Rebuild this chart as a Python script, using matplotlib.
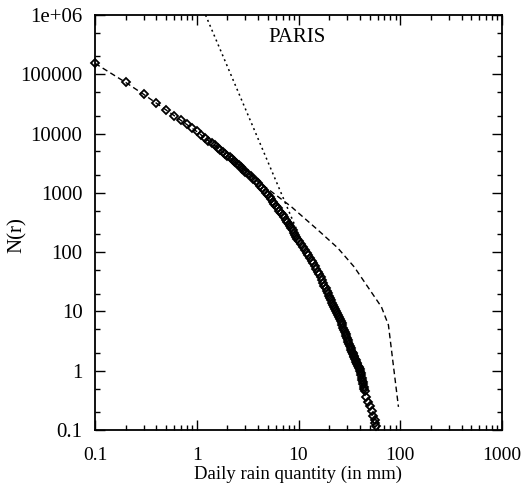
import numpy as np
import matplotlib
matplotlib.use("Agg")
import matplotlib.pyplot as plt
from matplotlib.ticker import FixedLocator, FixedFormatter, LogLocator, NullFormatter

plt.rcParams['font.family'] = ['Liberation Serif', 'DejaVu Serif']

# Daily rain quantity r (mm) and log10 of N(r)
rain_mm = [0.1, 0.2, 0.3, 0.4, 0.5, 0.6, 0.7, 0.8, 0.9,
           1.0, 1.1, 1.2, 1.3, 1.4, 1.5, 1.6, 1.7, 1.8, 1.9,
           2.0, 2.1, 2.2, 2.3, 2.4, 2.5, 2.6, 2.7, 2.8, 2.9,
           3.0, 3.2, 3.4, 3.6, 3.8, 4.0, 4.2, 4.4, 4.6, 4.8,
           5.0, 5.2, 5.4, 5.6, 5.8, 6.0, 6.25, 6.5, 6.75, 7.0,
           7.25, 7.5, 7.75, 8.0, 8.25, 8.5, 8.75, 9.0, 9.25, 9.5,
           9.75, 10.0, 10.5, 11.0, 11.5, 12.0, 12.5, 13.0,
           13.5, 14.0, 14.5, 15.0, 15.5, 16.0, 16.5, 17.0, 17.5, 18.0,
           18.5, 19.0, 19.5, 20.0, 20.5, 21.0, 21.5, 22.0, 22.5, 23.0,
           23.5, 24.0, 24.5, 25.0, 25.5, 26.0, 26.5, 27.0, 27.5, 28.0,
           28.5, 29.0, 29.5, 30.0, 30.5, 31.0, 31.5, 32.0, 32.5, 33.0,
           33.5, 34.0, 34.5, 35.0, 35.5, 36.0, 36.5, 37.0, 37.5, 38.0,
           38.5, 39.0, 39.5, 40.0, 40.5, 41.0, 41.5, 42.0, 42.5, 43.0,
           43.5, 44.0, 44.5, 45.0, 46.5, 48.5, 50.5, 52.5, 54.5, 56.0,
           57.0, 58.0]
log10_count = [5.185, 4.863, 4.663, 4.511, 4.398, 4.301, 4.228, 4.161, 4.093,
               4.035, 3.980, 3.929, 3.883, 3.840, 3.800, 3.762, 3.726, 3.692, 3.660,
               3.630, 3.599, 3.570, 3.542, 3.516, 3.490, 3.462, 3.435, 3.409, 3.384,
               3.360, 3.320, 3.280, 3.240, 3.200, 3.160, 3.120, 3.080, 3.040, 3.000,
               2.960, 2.925, 2.890, 2.850, 2.815, 2.780, 2.740, 2.700, 2.660, 2.620,
               2.585, 2.550, 2.515, 2.480, 2.443, 2.405, 2.368, 2.330, 2.295, 2.260,
               2.225, 2.190, 2.140, 2.090, 2.040, 1.990, 1.945, 1.900,
               1.855, 1.810, 1.765, 1.720, 1.670, 1.625, 1.575, 1.525, 1.475, 1.430,
               1.390, 1.345, 1.305, 1.264, 1.225, 1.187, 1.150, 1.113, 1.078, 1.043,
               1.009, 0.976, 0.943, 0.911, 0.880, 0.840, 0.801, 0.763, 0.725, 0.688,
               0.652, 0.616, 0.581, 0.546, 0.512, 0.479, 0.446, 0.414, 0.381, 0.350,
               0.324, 0.299, 0.274, 0.249, 0.225, 0.201, 0.178, 0.155, 0.132, 0.109,
               0.087, 0.065, 0.043, 0.022, 0.000, -0.040, -0.080, -0.120, -0.155, -0.190,
               -0.230, -0.270, -0.310, -0.350, -0.440, -0.530, -0.600, -0.680, -0.760, -0.830,
               -0.880, -0.930]

# Dashed model curve
dashed_mm = [0.1, 0.2, 0.3, 0.5, 1.0, 2.0, 3.0, 3.8, 8.45, 15.5, 24.3, 35.3, 65.3, 76.5, 96.0]
dashed_log10 = [5.185, 4.863, 4.663, 4.398, 4.035, 3.63, 3.38, 3.22, 2.77, 2.374, 2.071, 1.75,
                1.076, 0.773, -0.61]

# Dotted power-law line
dotted_mm = [1.22, 9.8]
dotted_count = [1e6, 220]

x_ticks = [0.1, 1, 10, 100, 1000]
x_tick_labels = ['0.1', '1', '10', '100', '1000']
y_ticks = [0.1, 1, 10, 100, 1000, 10000, 100000, 1e6]
y_tick_labels = ['0.1', '1', '10', '100', '1000', '10000', '100000', '1e+06']

count = 10 ** np.array(log10_count)
dashed_count = 10 ** np.array(dashed_log10)

fig = plt.figure(figsize=(5.25, 4.87), dpi=100)
ax = fig.add_axes([95 / 525, 1 - 430 / 487, 407 / 525, 415 / 487])

ax.plot(dashed_mm, dashed_count, color='black', lw=1.0, dashes=(4.0, 2.5))
ax.plot(dotted_mm, dotted_count, color='black', lw=1.1, dashes=(1.3, 2.2))
ax.plot(rain_mm, count, linestyle='none', marker='D', markersize=4.1,
        markerfacecolor='none', markeredgecolor='black', markeredgewidth=1.3,
        clip_on=False, zorder=3)

ax.set_xscale('log')
ax.set_yscale('log')
ax.set_xlim(0.1, 1000)
ax.set_ylim(0.1, 1e6)

ax.xaxis.set_major_locator(FixedLocator(x_ticks))
ax.xaxis.set_major_formatter(FixedFormatter(x_tick_labels))
ax.yaxis.set_major_locator(FixedLocator(y_ticks))
ax.yaxis.set_major_formatter(FixedFormatter(y_tick_labels))
ax.xaxis.set_minor_locator(LogLocator(base=10, subs=np.arange(2, 10), numticks=30))
ax.yaxis.set_minor_locator(LogLocator(base=10, subs=(2, 5), numticks=30))
ax.xaxis.set_minor_formatter(NullFormatter())
ax.yaxis.set_minor_formatter(NullFormatter())

ax.tick_params(which='both', direction='in', top=True, right=True, width=1.0)
ax.tick_params(which='major', length=7)
ax.tick_params(which='minor', length=3.5)
ax.tick_params(axis='x', which='major', pad=12, labelsize=14)
ax.tick_params(axis='y', which='major', pad=9, labelsize=15)
for s in ax.spines.values():
    s.set_linewidth(1.3)

ax.set_xlabel('Daily rain quantity (in mm)', fontsize=13.5)
ax.xaxis.set_label_coords(0.5, (430 - 466) / 415)
ax.set_ylabel('N(r)', fontsize=15)
ax.yaxis.set_label_coords((27 - 95) / 407, (430 - 235) / 415)

ax.text(0.496, 0.945, 'PARIS', transform=ax.transAxes, ha='center', va='center', fontsize=15)

fig.savefig('out.png', dpi=100)
